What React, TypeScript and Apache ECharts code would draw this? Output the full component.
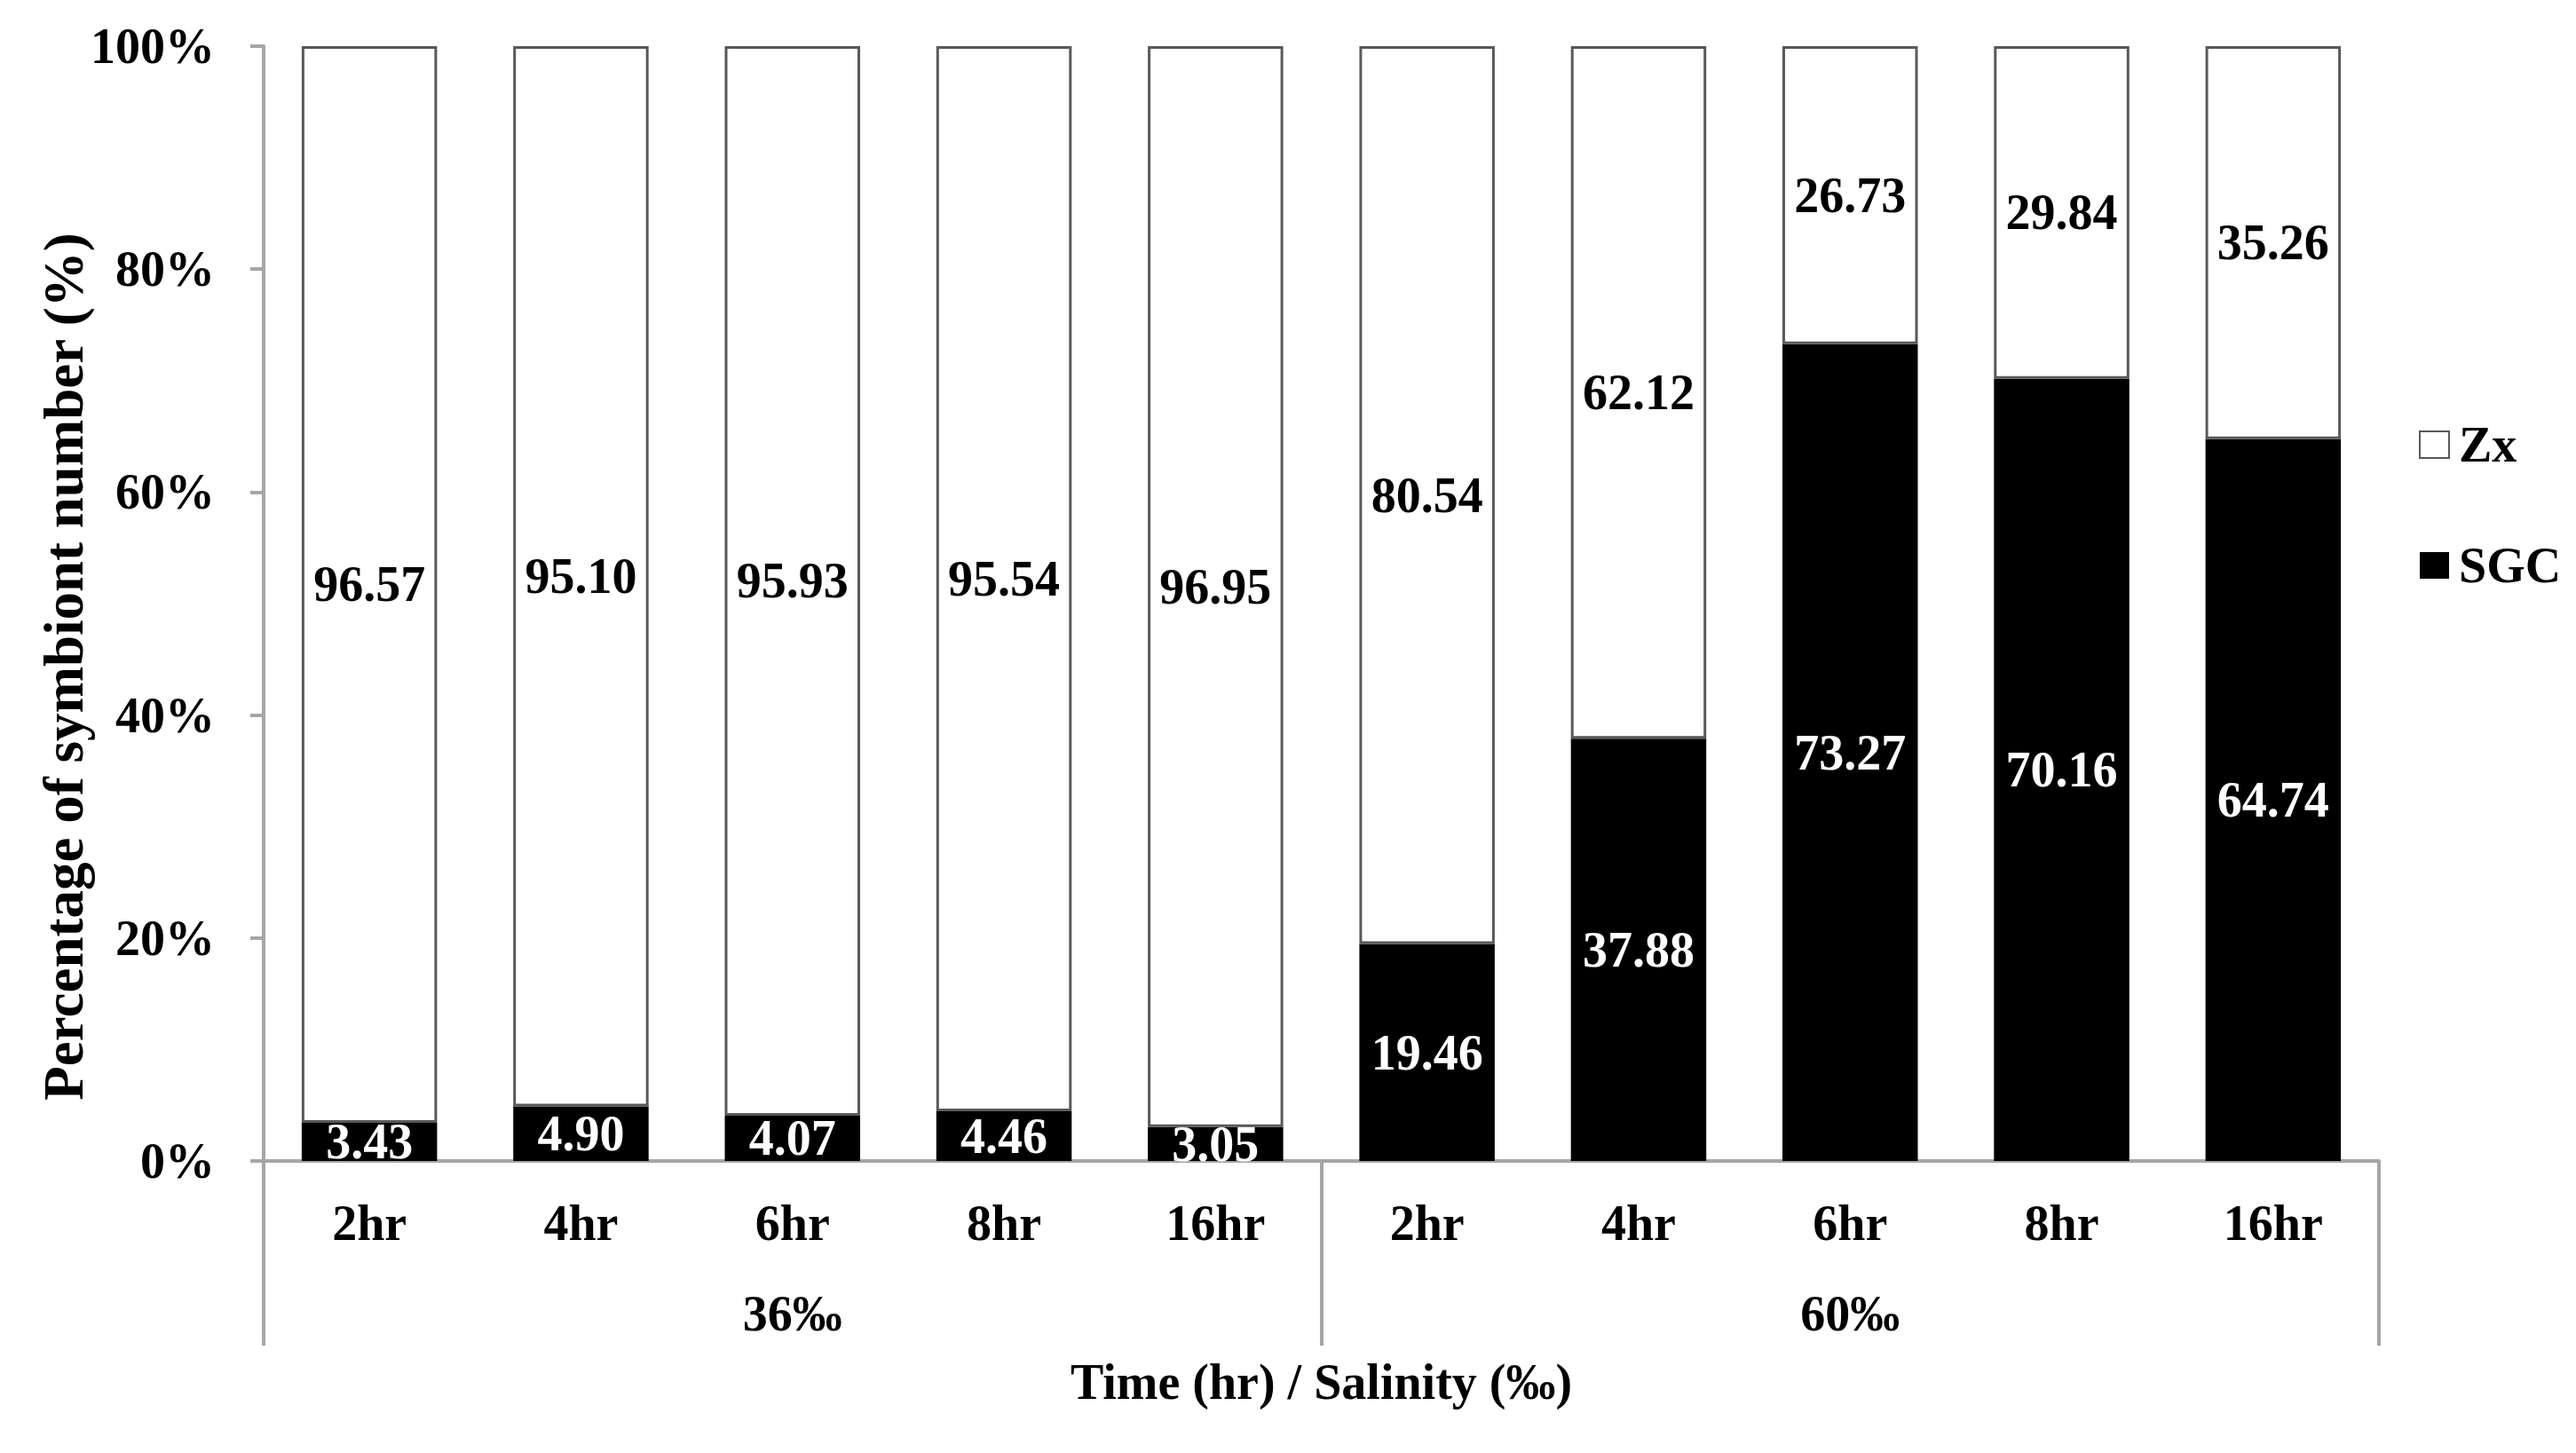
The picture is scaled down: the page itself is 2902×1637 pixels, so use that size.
import React, { useEffect, useRef } from "react";
import * as echarts from "echarts";

const hourLabels = ["2hr", "4hr", "6hr", "8hr", "16hr", "2hr", "4hr", "6hr", "8hr", "16hr"];
const salinityLabels = ["36‰", "60‰"];
const sgcValues = [3.43, 4.9, 4.07, 4.46, 3.05, 19.46, 37.88, 73.27, 70.16, 64.74];
const zxValues = [96.57, 95.1, 95.93, 95.54, 96.95, 80.54, 62.12, 26.73, 29.84, 35.26];
const yTicks = { min: 0, max: 100, interval: 20 };

const FONT = "'Liberation Serif', 'Times New Roman', serif";
const AXIS_GRAY = "#a6a6a6";

export default function App() {
  const ref = useRef<HTMLDivElement>(null);

  useEffect(() => {
    if (!ref.current) return;
    const chart = echarts.init(ref.current, null, { renderer: "svg" });
    const gridLeft = 297;
    const gridRight = 2680;
    const gridTop = 52;
    const gridBottom = 1308;
    const sepBottom = 1516;

    chart.setOption({
      animation: false,
      backgroundColor: "#ffffff",
      textStyle: { fontFamily: FONT },
      grid: {
        left: gridLeft,
        right: 2902 - gridRight,
        top: gridTop,
        bottom: 1637 - gridBottom,
        containLabel: false,
      },
      legend: {
        data: ["Zx", "SGC"],
        orient: "vertical",
        left: 2720,
        top: 466,
        itemWidth: 33,
        itemHeight: 30,
        itemGap: 76,
        icon: "rect",
        textStyle: {
          fontFamily: FONT,
          fontSize: 56,
          fontWeight: "bold",
          color: "#000",
          lineHeight: 60,
          padding: [0, 0, 0, 6],
        },
      },
      xAxis: [
        {
          type: "category",
          data: hourLabels,
          position: "bottom",
          axisLine: { show: true, lineStyle: { color: AXIS_GRAY, width: 4 } },
          axisTick: { show: false },
          axisLabel: {
            interval: 0,
            margin: 42,
            color: "#000",
            fontFamily: FONT,
            fontSize: 56,
            fontWeight: "bold",
          },
        },
        {
          type: "category",
          data: salinityLabels,
          position: "bottom",
          offset: sepBottom - gridBottom,
          boundaryGap: true,
          axisLine: { show: false },
          axisTick: {
            show: true,
            inside: true,
            length: sepBottom - gridBottom,
            lineStyle: { color: AXIS_GRAY, width: 4 },
          },
          axisLabel: {
            inside: true,
            interval: 0,
            margin: 8,
            color: "#000",
            fontFamily: FONT,
            fontSize: 56,
            fontWeight: "bold",
            lineHeight: 56,
          },
        },
      ],
      yAxis: {
        type: "value",
        min: yTicks.min,
        max: yTicks.max,
        interval: yTicks.interval,
        axisLine: { show: true, lineStyle: { color: AXIS_GRAY, width: 4 } },
        axisTick: { show: true, length: 15, lineStyle: { color: AXIS_GRAY, width: 4 } },
        splitLine: { show: false },
        axisLabel: {
          formatter: "{value}%",
          margin: 55,
          color: "#000",
          fontFamily: FONT,
          fontSize: 56,
          fontWeight: "bold",
        },
      },
      graphic: [
        {
          type: "text",
          x: (gridLeft + gridRight) / 2,
          y: 1557,
          style: {
            text: "Time (hr) / Salinity (‰)",
            font: `bold 56px ${FONT}`,
            fill: "#000",
            textAlign: "center",
            textVerticalAlign: "middle",
          },
        },
        {
          type: "text",
          x: 72,
          y: 751,
          rotation: Math.PI / 2,
          style: {
            text: "Percentage of symbiont number (%)",
            font: `bold 63px ${FONT}`,
            fill: "#000",
            textAlign: "center",
            textVerticalAlign: "middle",
          },
        },
      ],
      series: [
        {
          name: "SGC",
          type: "bar",
          stack: "total",
          xAxisIndex: 0,
          data: sgcValues,
          barCategoryGap: "36%",
          itemStyle: { color: "#000000", borderColor: "#000000", borderWidth: 0 },
          label: {
            show: true,
            position: "inside",
            formatter: (p: any) => Number(p.value).toFixed(2),
            color: "#ffffff",
            fontFamily: FONT,
            fontSize: 56,
            fontWeight: "bold",
          },
        },
        {
          name: "Zx",
          type: "bar",
          stack: "total",
          xAxisIndex: 0,
          data: zxValues,
          barCategoryGap: "36%",
          itemStyle: { color: "#ffffff", borderColor: "#595959", borderWidth: 3 },
          label: {
            show: true,
            position: "inside",
            formatter: (p: any) => Number(p.value).toFixed(2),
            color: "#000000",
            fontFamily: FONT,
            fontSize: 56,
            fontWeight: "bold",
          },
        },
      ],
    });

    return () => chart.dispose();
  }, []);

  return (
    <div
      ref={ref}
      style={{ position: "fixed", left: 0, top: 0, width: 2902, height: 1637, background: "#fff" }}
    />
  );
}
